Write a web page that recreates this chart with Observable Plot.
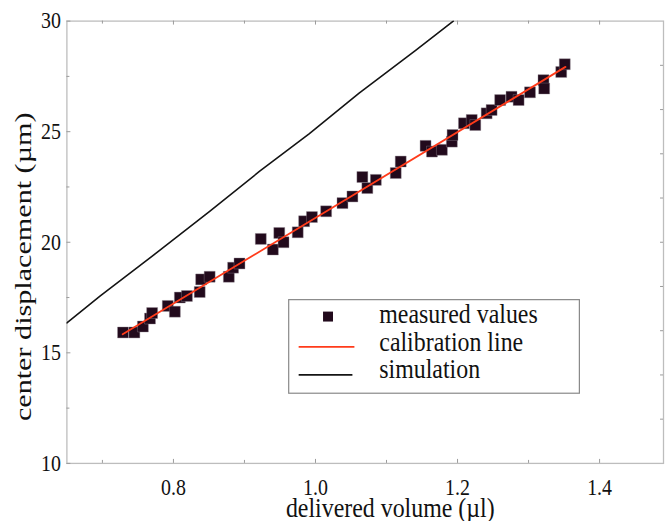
<!DOCTYPE html>
<html><head><meta charset="utf-8">
<script src="https://cdn.jsdelivr.net/npm/d3@7"></script>
<script src="https://cdn.jsdelivr.net/npm/@observablehq/plot@0.6"></script>
<style>
body{margin:0;background:#fff;overflow:hidden}
#chart{width:665px;height:523px;overflow:hidden}
</style>
</head><body><div id="chart"></div>
<script>
// ---- data ----
const volume = [0.729,0.745,0.757,0.767,0.770,0.792,0.802,0.809,0.819,0.837,0.839,0.851,0.878,0.884,0.893,
  0.923,0.940,0.949,0.955,0.975,0.984,0.995,1.015,1.038,1.052,1.066,1.073,1.085,1.113,1.120,
  1.155,1.164,1.178,1.192,1.193,1.209,1.220,1.225,1.241,1.248,1.260,1.276,1.286,1.302,1.321,1.322,1.346,1.351];
const displacement = [15.92,15.92,16.19,16.55,16.80,17.12,16.86,17.50,17.57,17.75,18.32,18.44,18.44,18.85,19.04,
  20.15,19.67,20.42,20.00,20.45,20.95,21.14,21.40,21.77,22.07,22.95,22.45,22.82,23.13,23.65,
  24.36,24.10,24.18,24.55,24.85,25.38,25.53,25.30,25.83,25.98,26.43,26.58,26.43,26.78,27.33,26.95,27.70,28.05];
const calibVolume = [0.7285, 1.352];
const calibDisp = [15.84, 27.93];
const simVolume = [0.65,0.697,0.781,0.851,0.921,0.991,1.061,1.141,1.194];
const simDisp = [16.35,17.57,19.64,21.40,23.20,24.90,26.73,28.68,30.0];
const xMajor = [0.8,1.0,1.2,1.4];
const xMinor = [0.7,0.9,1.1,1.3];
const yMajor = [10,15,20,25,30];
const yMinor = [12.5,17.5,22.5,27.5];
const yRight = [12,14,16,18,20,22,24,26,28];
const xDomain = [0.65,1.49];
const yDomain = [10,30];
const xTitle = "delivered volume (µl)";
const yTitle = "center displacement (µm)";
const legendLabels = ["measured values","calibration line","simulation"];

// ---- tables ----
const measured = volume.map((v,i)=>({x:v,y:displacement[i]}));
const calib = calibVolume.map((v,i)=>({x:v,y:calibDisp[i]}));
const sim = simVolume.map((v,i)=>({x:v,y:simDisp[i]}));

const W=668,H=523,mL=66.7,mT=20.7,mR=2,mB=58;
const pw=W-mL-mR, ph=H-mT-mB;
const serif = "'Liberation Serif','Times New Roman',serif";
const squareFill = "#220a1c", red = "#ff3b1a", black = "#141414";

const plot = Plot.plot({
  width:W, height:H, marginLeft:mL, marginTop:mT, marginRight:mR, marginBottom:mB,
  x:{domain:xDomain}, y:{domain:yDomain},
  style:{fontFamily:serif, background:"#fff", color:"#111"},
  marks:[
    Plot.frame({stroke:"#bdbdbd", strokeWidth:1.3}),
    Plot.tickX(xMajor, {x:d=>d, insetTop:ph-4, stroke:"#9a9a9a"}),
    Plot.tickX(xMinor, {x:d=>d, insetTop:ph-3, stroke:"#9a9a9a"}),
    Plot.tickX(xMajor, {x:d=>d, insetBottom:ph-4, stroke:"#9a9a9a"}),
    Plot.tickX(xMinor, {x:d=>d, insetBottom:ph-3, stroke:"#9a9a9a"}),
    Plot.tickY(yMajor, {y:d=>d, insetRight:pw-4, stroke:"#9a9a9a"}),
    Plot.tickY(yMinor, {y:d=>d, insetRight:pw-3, stroke:"#9a9a9a"}),
    Plot.tickY(yRight, {y:d=>d, insetLeft:pw-3, stroke:"#9a9a9a"}),
    Plot.axisX({ticks:xMajor, tickSize:0, tickPadding:15, tickFormat:d3.format(".1f"), fontSize:20, label:null}),
    Plot.axisY({ticks:yMajor, tickSize:0, tickPadding:6, fontSize:20, label:null}),
    Plot.line(sim, {x:"x", y:"y", stroke:black, strokeWidth:1.6, clip:true}),
    Plot.dot(measured, {x:"x", y:"y", symbol:"square", r:6.2, fill:squareFill, stroke:"#8f8590", strokeWidth:0.4}),
    Plot.line(calib, {x:"x", y:"y", stroke:red, strokeWidth:1.8})
  ]
});

document.getElementById("chart").appendChild(plot);
const svg = d3.select(plot);
const k = 1.15;
svg.selectAll('g[aria-label="x-axis tick label"] text, g[aria-label="y-axis tick label"] text').each(function(){
  const t = this.getAttribute("transform") || "";
  const yy = +this.getAttribute("y") || 0;
  this.setAttribute("transform", `${t} translate(0,${yy}) scale(1,${k}) translate(0,${-yy})`);
});

// axis titles
svg.append("text").attr("transform",`translate(392,519) scale(1,${k})`)
  .attr("text-anchor","middle").attr("font-family",serif).attr("font-size",24).attr("fill","#111").text(xTitle);
svg.append("text").attr("transform","translate(31.5,268) rotate(-90)")
  .attr("text-anchor","middle").attr("font-family",serif).attr("font-size",24).attr("fill","#111")
  .attr("textLength",310).attr("lengthAdjust","spacingAndGlyphs").text(yTitle);

// legend
const lg = svg.append("g");
lg.append("rect").attr("x",290).attr("y",301).attr("width",292).attr("height",94)
  .attr("fill","#fff").attr("stroke","#888").attr("stroke-width",1.2);
lg.append("rect").attr("x",324.5).attr("y",313).attr("width",10).attr("height",10).attr("fill",squareFill);
lg.append("line").attr("x1",300).attr("x2",356).attr("y1",348.5).attr("y2",348.5).attr("stroke",red).attr("stroke-width",1.8);
lg.append("line").attr("x1",300).attr("x2",354).attr("y1",376.5).attr("y2",376.5).attr("stroke",black).attr("stroke-width",1.8);
const baselines = [324,353,379.5];
legendLabels.forEach((s,i)=>{
  lg.append("text").attr("transform",`translate(381,${baselines[i]}) scale(1,${k})`)
    .attr("text-anchor","start").attr("font-family",serif).attr("font-size",24).attr("fill","#111").text(s);
});
</script>
</body></html>
